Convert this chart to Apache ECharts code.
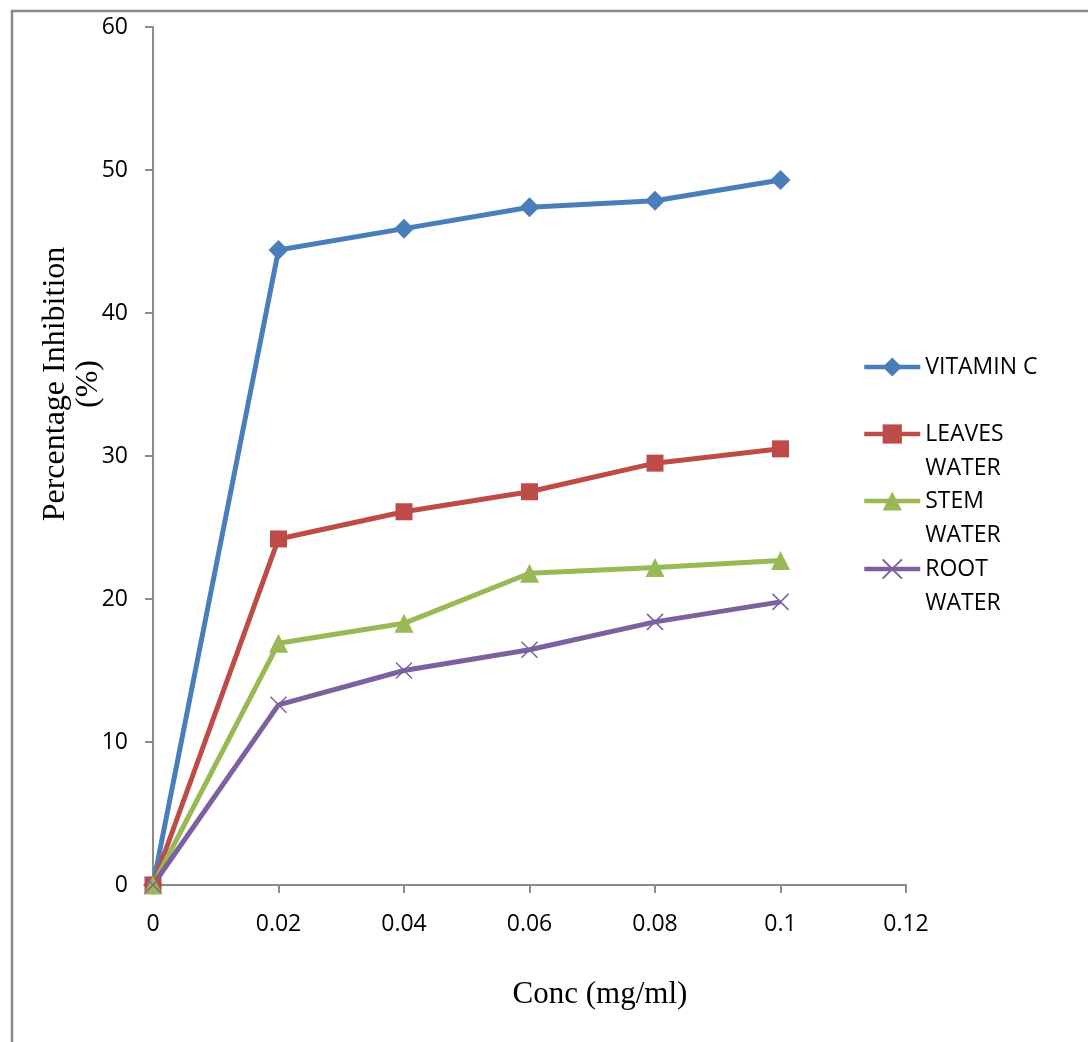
<!DOCTYPE html>
<html>
<head>
<meta charset="utf-8">
<script src="https://cdn.jsdelivr.net/npm/echarts@6/dist/echarts.min.js"></script>
<style>
  html, body { margin: 0; padding: 0; background: #fff; }
  #chart { width: 1088px; height: 1042px; }
</style>
</head>
<body>
<div id="chart"></div>
<script>
// concentrations (mg/ml) on the x axis
const conc = [0, 0.02, 0.04, 0.06, 0.08, 0.1]
// percentage inhibition for each extract
const vitaminC = [0, 44.4, 45.9, 47.4, 47.85, 49.3]
const leavesWater = [0, 24.2, 26.1, 27.5, 29.5, 30.5]
const stemWater = [0, 16.9, 18.3, 21.8, 22.2, 22.7]
const rootWater = [0, 12.6, 15.0, 16.45, 18.4, 19.8]
const seriesNames = ['VITAMIN C', 'LEAVES WATER', 'STEM WATER', 'ROOT WATER']
const legendLabels = ['VITAMIN C', 'LEAVES\nWATER', 'STEM\nWATER', 'ROOT\nWATER']

const axisGray = '#8c8c8c'
const labelFont = { color: '#000', fontSize: 23, fontFamily: 'Open Sans' }

function pairs (ys) {
  return conc.map((x, i) => [x, ys[i]])
}

function makeSeries (name, ys, color, symbol, size, extra) {
  return Object.assign({
    name: name,
    type: 'line',
    data: pairs(ys),
    symbol: symbol,
    symbolSize: size,
    lineStyle: { color: color, width: 5 },
    itemStyle: { color: color },
    emphasis: { disabled: true }
  }, extra || {})
}

// one legend per entry; a blank leading line keeps the first text line on the icon
const legendCenters = [367, 434, 501, 569]
const legends = seriesNames.map((name, i) => {
  const twoLines = legendLabels[i].indexOf('\n') >= 0
  return {
    data: [name],
    left: 862,
    top: twoLines ? legendCenters[i] - 51 : legendCenters[i] - 17,
    padding: 0,
    itemWidth: 56,
    itemHeight: 24,
    selectedMode: false,
    lineStyle: { width: 4.5 },
    formatter: () => (twoLines ? '\n' : '') + legendLabels[i],
    textStyle: {
      color: '#000',
      fontSize: 23,
      fontFamily: 'Open Sans',
      lineHeight: 34
    }
  }
})

const chart = echarts.init(document.getElementById('chart'))
chart.setOption({
  animation: false,
  backgroundColor: '#fff',
  grid: { left: 153, right: 182, top: 27, bottom: 157 },
  legend: legends,
  xAxis: {
    type: 'value',
    min: 0,
    max: 0.12,
    interval: 0.02,
    axisLine: { lineStyle: { color: axisGray, width: 2 } },
    axisTick: { show: true, length: 8, lineStyle: { color: axisGray, width: 2 } },
    axisLabel: Object.assign({ margin: 28 }, labelFont),
    splitLine: { show: false }
  },
  yAxis: {
    type: 'value',
    min: 0,
    max: 60,
    interval: 10,
    axisLine: { show: true, lineStyle: { color: axisGray, width: 2 } },
    axisTick: { show: true, length: 8, lineStyle: { color: axisGray, width: 2 } },
    axisLabel: Object.assign({ margin: 25 }, labelFont),
    splitLine: { show: false }
  },
  graphic: [
    // outer frame, right and bottom edges fall outside the picture
    {
      type: 'rect',
      shape: { x: 12, y: 11, width: 1300, height: 1300 },
      style: { fill: 'none', stroke: '#8a8a8a', lineWidth: 2.5 },
      silent: true
    },
    {
      type: 'text',
      x: 600,
      y: 995,
      style: {
        text: 'Conc (mg/ml)',
        font: '31px "Liberation Serif"',
        fill: '#000',
        align: 'center',
        verticalAlign: 'middle'
      }
    },
    {
      type: 'text',
      x: 72,
      y: 384,
      rotation: Math.PI / 2,
      style: {
        text: 'Percentage Inhibition\n(%)',
        font: '32px "Liberation Serif"',
        lineHeight: 33,
        fill: '#000',
        align: 'center',
        verticalAlign: 'middle'
      }
    }
  ],
  series: [
    makeSeries(seriesNames[0], vitaminC, '#4a7ebb', 'diamond', 20),
    makeSeries(seriesNames[1], leavesWater, '#be4b48', 'rect', 17),
    makeSeries(seriesNames[2], stemWater, '#98b954', 'triangle', 19),
    makeSeries(seriesNames[3], rootWater, '#7d60a0', 'path://M0,0L10,10M10,0L0,10', 16, {
      itemStyle: { color: 'none', borderColor: '#7d60a0', borderWidth: 1.5 }
    })
  ]
})
</script>
</body>
</html>
